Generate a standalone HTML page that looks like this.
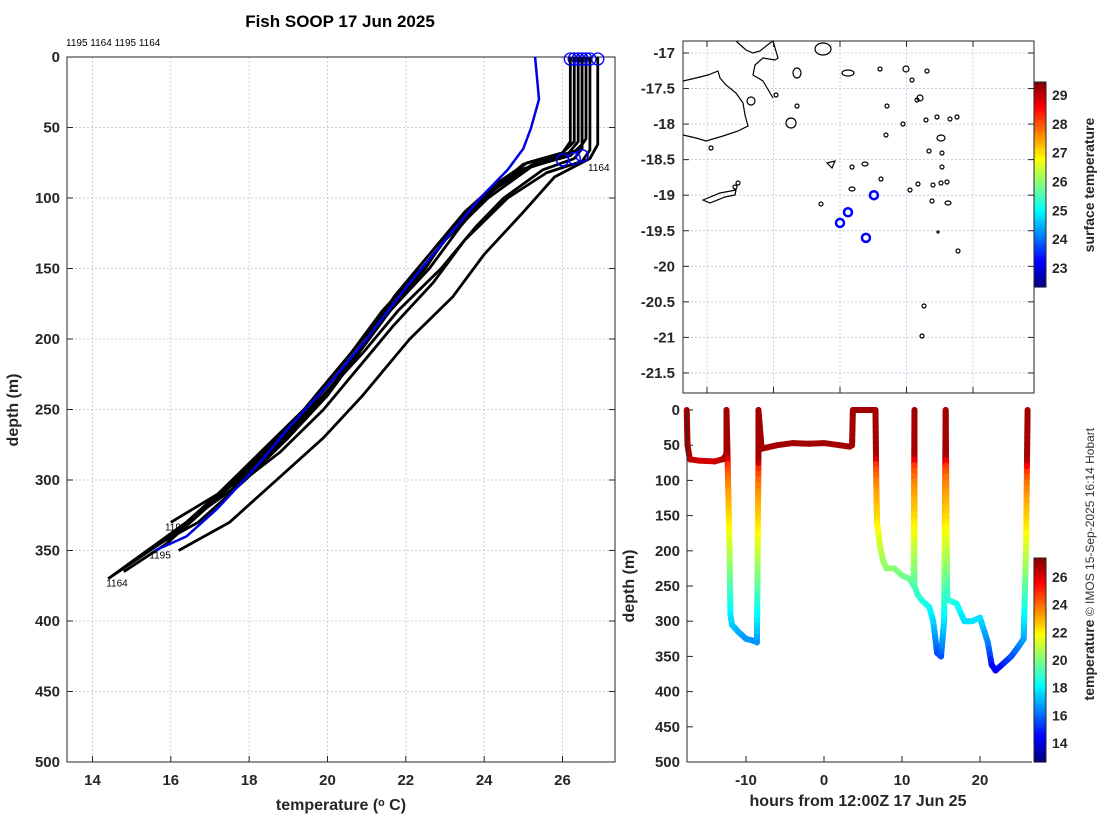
<!DOCTYPE html>
<html><head><meta charset="utf-8"><style>
body{margin:0;background:#fff;width:1100px;height:820px;overflow:hidden}
svg text{font-family:"Liberation Sans",sans-serif;}
.t{font-size:15px;font-weight:bold;fill:#262626}
.s{font-size:10px;fill:#000}
.g{stroke:#b8c4e0;stroke-width:0.8;stroke-dasharray:2,2}
</style></head><body>
<svg id="c" width="1100" height="820" xmlns="http://www.w3.org/2000/svg">
<text x="340" y="27" text-anchor="middle" style="font-size:17px;font-weight:bold">Fish SOOP 17 Jun 2025</text>
<text x="66" y="46" class="s">1195 1164 1195 1164</text>
<text transform="translate(1094,522) rotate(-90)" text-anchor="middle" style="font-size:12px;fill:#333">© IMOS 15-Sep-2025 16:14 Hobart</text>
<g id="left"></g>
<g id="map"></g>
<g id="track"></g>
</svg>
<script>
const NS='http://www.w3.org/2000/svg';
function E(p,t,a,txt){const e=document.createElementNS(NS,t);for(const k in a)e.setAttribute(k,a[k]);if(txt!==undefined)e.textContent=txt;p.appendChild(e);return e;}
// ---------- left profile data ----------
const xTicks=[14,16,18,20,22,24,26];
const yTicks=[0,50,100,150,200,250,300,350,400,450,500];
const blueDepth=[0,30,50,65,80,100,130,160,200,230,260,290,320,340,350];
const blueTemp=[25.3,25.4,25.2,25.0,24.6,23.9,23.0,22.1,21.0,20.1,19.1,18.2,17.2,16.4,15.6];
const profDepth=[[0,60,68,75,90,110,140,170,200,230,260,300,330],[0,62,70,80,100,120,150,180,210,240,270,300,330,350],[0,58,66,75,95,120,150,180,210,250,280,310,340,355,370],[0,60,70,78,100,130,160,190,220,250,290,320,345,365],[0,62,72,85,110,140,170,200,240,270,300,330,350],[0,65,72,80,100,120,150,180,210,240,270,300,330,360,368],[0,60,68,76,95,120,150,180,210,240,260,300,330],[0,66,74,82,100,130,160,190,220,250,280,310,340]];
const profTemp=[[26.3,26.3,26.0,25.1,24.3,23.5,22.6,21.7,21.0,20.2,19.3,17.8,16.0],[26.5,26.5,26.2,24.9,24.0,23.4,22.6,21.6,20.8,20.0,19.0,17.9,16.7,15.4],[26.6,26.6,26.4,25.3,24.2,23.2,22.5,21.5,20.6,19.4,18.3,17.2,16.0,15.2,14.4],[26.4,26.4,26.1,25.2,24.1,23.0,22.2,21.3,20.4,19.5,18.0,16.9,15.9,14.8],[26.9,26.9,26.7,25.8,25.0,24.0,23.2,22.1,20.9,19.9,18.7,17.5,16.2],[26.5,26.5,26.3,25.5,24.5,23.8,22.9,21.8,20.9,19.9,18.9,17.6,16.4,14.9,14.5],[26.2,26.2,26.0,25.0,24.2,23.3,22.4,21.4,20.6,19.7,19.2,17.7,16.5],[26.7,26.7,26.5,25.6,24.6,23.5,22.7,21.7,20.8,19.9,18.8,17.4,15.9]];
const lx=t=>67+(t-13.35)*39.17, ly=d=>57+d*1.41;
const L=document.getElementById('left');
xTicks.forEach(v=>{E(L,'line',{x1:lx(v),x2:lx(v),y1:57,y2:762,class:'g'});E(L,'line',{x1:lx(v),x2:lx(v),y1:762,y2:756,stroke:'#262626'});E(L,'text',{x:lx(v),y:785,class:'t','text-anchor':'middle'},v);});
yTicks.forEach(v=>{E(L,'line',{x1:67,x2:615,y1:ly(v),y2:ly(v),class:'g'});E(L,'line',{x1:67,x2:73,y1:ly(v),y2:ly(v),stroke:'#262626'});E(L,'line',{x1:609,x2:615,y1:ly(v),y2:ly(v),stroke:'#262626'});E(L,'text',{x:60,y:ly(v)+5,class:'t','text-anchor':'end'},v);});
E(L,'rect',{x:67,y:57,width:548,height:705,fill:'none',stroke:'#262626','stroke-width':1});
E(L,'text',{x:341,y:810,class:'t','text-anchor':'middle',style:'font-size:16px'},'temperature (ᵒ C)');
E(L,'text',{transform:'translate(18,410) rotate(-90)',class:'t','text-anchor':'middle',style:'font-size:16px'},'depth (m)');
profTemp.forEach((tt,i)=>{const p=E(L,'polyline',{points:tt.map((t,j)=>lx(t)+','+ly(profDepth[i][j])).join(' '),fill:'none',stroke:'#000','stroke-width':2.8,'stroke-linejoin':'round'});
E(L,'circle',{cx:lx(tt[0]),cy:ly(0)+2,r:6,fill:'none',stroke:'#00f','stroke-width':1.3});});
E(L,'polyline',{points:blueTemp.map((t,j)=>lx(t)+','+ly(blueDepth[j])).join(' '),fill:'none',stroke:'#0000e6','stroke-width':2.5,});
[[26.0,73],[26.3,72],[26.5,70]].forEach(p=>E(L,'circle',{cx:lx(p[0]),cy:ly(p[1]),r:6,fill:'none',stroke:'#00f','stroke-width':1.5}));
[['1164',26.6,75],['1195',15.4,350],['1164',14.3,370],['1195',15.8,330]].forEach(a=>E(L,'text',{x:lx(a[1])+2,y:ly(a[2])+8,class:'s'},a[0]));
// ---------- map ----------
const latTicks=[-17,-17.5,-18,-18.5,-19,-19.5,-20,-20.5,-21,-21.5];
const lonTicks=[178,179,180,181,182];
const obsLon=[180.0,180.12,180.39,180.51];
const obsLat=[-19.39,-19.24,-19.6,-19.0];
const mx=l=>707+(l-178)*66.5, my=l=>53-(l+17)*71.1;
const M=document.getElementById('map');
lonTicks.forEach(v=>{E(M,'line',{x1:mx(v),x2:mx(v),y1:41,y2:393,class:'g'});E(M,'line',{x1:mx(v),x2:mx(v),y1:393,y2:387,stroke:'#262626'});E(M,'line',{x1:mx(v),x2:mx(v),y1:41,y2:47,stroke:'#262626'});E(M,'text',{x:mx(v),y:416,class:'t','text-anchor':'middle'},v);});
latTicks.forEach(v=>{E(M,'line',{x1:683,x2:1034,y1:my(v),y2:my(v),class:'g'});E(M,'line',{x1:683,x2:689,y1:my(v),y2:my(v),stroke:'#262626'});E(M,'line',{x1:1028,x2:1034,y1:my(v),y2:my(v),stroke:'#262626'});E(M,'text',{x:675,y:my(v)+5,class:'t','text-anchor':'end'},v);});
E(M,'path',{d:'M683,81 L696,78 708,75 718,71 720,78 726,85 736,93 743,103 745,115 748,126 738,131 723,136 706,141 696,138 683,135 M736,41 L746,50 753,53 760,51 770,43 773,41 778,58 775,60 763,58 755,65 753,75 763,81 773,98 M703,200 L720,193 736,190 735,195 725,197 710,203 Z',fill:'none',stroke:'#000','stroke-width':1.2});
const isl=[[797,73,4,5],[797,106,2,2],[776,95,2,2],[751,101,4,4],[791,123,5,5],[848,73,6,3],[823,49,8,6],[880,69,2,2],[887,106,2,2],[886,135,2,2],[906,69,3,3],[912,80,2,2],[917,100,2,2],[927,71,2,2],[903,124,2,2],[926,120,2,2],[920,98,3,3],[937,117,2,2],[957,117,2,2],[950,119,2,2],[942,153,2,2],[941,138,4,3],[929,151,2,2],[942,167,2,2],[947,182,2,2],[941,183,2,2],[910,190,2,2],[918,184,2,2],[933,185,2,2],[932,201,2,2],[948,203,3,2],[958,251,2,2],[938,232,1,1],[924,306,2,2],[922,336,2,2],[881,179,2,2],[865,164,3,2],[852,167,2,2],[821,204,2,2],[852,189,3,2],[711,148,2,2],[738,183,2,2],[735,187,2,2]];
isl.forEach(a=>E(M,'ellipse',{cx:a[0],cy:a[1],rx:a[2],ry:a[3],fill:'none',stroke:'#000','stroke-width':1.2}));
E(M,'path',{d:'M827,163 L835,161 832,168 Z',fill:'none',stroke:'#000','stroke-width':1.2});
obsLon.forEach((l,i)=>E(M,'circle',{cx:mx(l),cy:my(obsLat[i]),r:4,fill:'none',stroke:'#00f','stroke-width':2.5}));
E(M,'rect',{x:683,y:41,width:351,height:352,fill:'none',stroke:'#262626'});
E(M,'rect',{x:683,y:403,width:360,height:20,fill:'#fff'});
function jet(f){f=Math.max(0,Math.min(1,f));const c=x=>Math.round(255*Math.max(0,Math.min(1,1.5-Math.abs(4*f-x))));return `rgb(${c(3)},${c(2)},${c(1)})`;}
function cbar(g,x,y0,y1,vmin,vmax,ticks,tf,label,ly0){const n=60,h=(y1-y0)/n;for(let i=0;i<n;i++)E(g,'rect',{x:x,y:y0+i*h,width:12,height:h+0.6,fill:jet(1-(i+0.5)/n)});E(g,'rect',{x:x,y:y0,width:12,height:y1-y0,fill:'none',stroke:'#262626'});ticks.forEach(v=>{const yy=tf(v);E(g,'text',{x:x+18,y:yy+5,class:'t','text-anchor':'start',style:'font-size:14px'},v);});E(g,'text',{transform:`translate(${x+60},${ly0}) rotate(-90)`,class:'t','text-anchor':'middle',style:'font-size:14px'},label);}
cbar(M,1034,82,287,22.5,29.5,[23,24,25,26,27,28,29],v=>268-(v-23)*28.83,'surface temperature',185);
// ---------- track ----------
const hTicks=[-10,0,10,20];
const trackHour=[-17.6,-17.5,-17.2,-16,-14,-13,-12.6,-12.5,-12.5,-12.3,-12.1,-12.0,-11.8,-11,-10,-9,-8.6,-8.5,-8.4,-8.4,-8,-6,-4,-2,0,2,3.3,3.6,3.7,6.6,6.7,6.8,7.2,7.6,8,9,10,11,11.5,11.6,11.6,12,12.5,13,13.5,14,14.5,15,15.4,15.6,15.7,15.8,16,17,18,19,20,21,21.5,22,23,24,25,25.6,25.9,26.1];
const trackDepth=[0,50,70,72,73,70,65,60,0,100,200,290,305,315,325,328,330,200,60,0,55,50,47,48,47,50,52,50,0,0,100,160,195,215,225,225,235,240,250,0,250,262,270,275,280,300,345,350,300,0,150,268,270,275,300,300,295,330,362,370,360,350,335,325,200,0];
const TRD=[0,60,70,80,100,120,150,180,200,230,260,300,330,350,370];
const TRT=[27.0,27.0,26.7,25.0,24.0,23.4,22.7,21.8,21.2,20.3,19.3,18.0,16.8,15.8,14.5];
const tx=h=>824+h*7.8, ty=d=>410+d*0.704;
function tempAt(d){for(let i=1;i<TRD.length;i++)if(d<=TRD[i]){const f=(d-TRD[i-1])/(TRD[i]-TRD[i-1]);return TRT[i-1]+f*(TRT[i]-TRT[i-1]);}return TRT[TRT.length-1];}
const T=document.getElementById('track');
hTicks.forEach(v=>{E(T,'text',{x:tx(v),y:785,class:'t','text-anchor':'middle'},v);});
yTicks.forEach(v=>{E(T,'text',{x:680,y:ty(v)+5,class:'t','text-anchor':'end'},v);E(T,'line',{x1:687,x2:693,y1:ty(v),y2:ty(v),stroke:'#262626'});});
for(let i=1;i<trackHour.length;i++){const a=[trackHour[i-1],trackDepth[i-1]],b=[trackHour[i],trackDepth[i]];const steps=Math.max(1,Math.ceil(Math.abs(b[1]-a[1])/8));for(let k=0;k<steps;k++){const f0=k/steps,f1=(k+1)/steps;const d0=a[1]+(b[1]-a[1])*f0,d1=a[1]+(b[1]-a[1])*f1;const s=E(T,'line',{x1:tx(a[0]+(b[0]-a[0])*f0),y1:ty(d0),x2:tx(a[0]+(b[0]-a[0])*f1),y2:ty(d1),stroke:jet((tempAt((d0+d1)/2)-13)/14.5),'stroke-width':6,'stroke-linecap':'round'});}}
E(T,'path',{d:'M687,410 L687,762 L1032,762',fill:'none',stroke:'#262626'});
hTicks.forEach(v=>E(T,'line',{x1:tx(v),x2:tx(v),y1:762,y2:756,stroke:'#262626'}));
E(T,'text',{x:858,y:806,class:'t','text-anchor':'middle',style:'font-size:16px'},'hours from 12:00Z 17 Jun 25');
E(T,'text',{transform:'translate(634,586) rotate(-90)',class:'t','text-anchor':'middle',style:'font-size:16px'},'depth (m)');
cbar(T,1034,558,762,13,27.5,[14,16,18,20,22,24,26],v=>743-(v-14)*13.83,'temperature',660);
</script>
</body></html>
